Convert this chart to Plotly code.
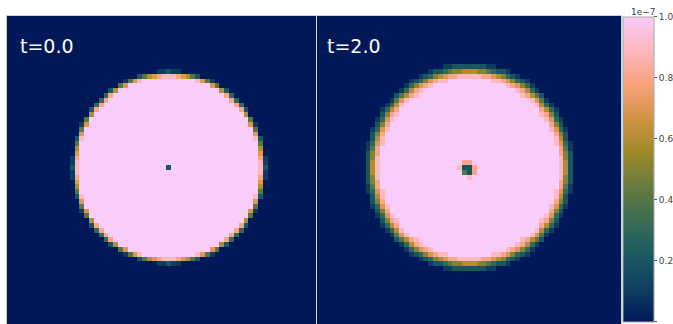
import numpy as np
import plotly.graph_objects as go

# ---------------- data (values in units of 1e-7) ----------------
N_CELLS = 64
CENTER_COL = 33
T0_FIRST_ROW = 11
T2_FIRST_ROW = 10
SCALE = 1e-7

LEVELS = {".": 0.0, "1": 0.1, "2": 0.2, "3": 0.3, "4": 0.4, "5": 0.5,
          "6": 0.6, "7": 0.7, "8": 0.8, "9": 0.9, "#": 1.0}

T0_ROWS = [
    ".........." ".........." "." "11211" "." ".........." "..........",
    ".........." "......." "2467899987642" "......." "..........",
    ".........." "...." "1479" "##########" "#" "9741" "...." "..........",
    ".........." "..." "47" "##########" "#######" "74" "..." "..........",
    ".........." "." "26" "##########" "##########" "#" "62" "." "..........",
    ".........." "38" "##########" "##########" "###" "83" "..........",
    "........." "38" "##########" "##########" "#####" "83" ".........",
    "........" "38" "##########" "##########" "#######" "83" "........",
    "......." "28" "##########" "##########" "#########" "82" ".......",
    "......." "6" "##########" "##########" "##########" "#" "6" ".......",
    "......" "4" "##########" "##########" "##########" "###" "4" "......",
    "....." "17" "##########" "##########" "##########" "###" "71" ".....",
    "....." "4" "##########" "##########" "##########" "#####" "4" ".....",
    "....." "7" "##########" "##########" "##########" "#####" "7" ".....",
    "...." "29" "##########" "##########" "##########" "#####" "92" "....",
    "...." "4" "##########" "##########" "##########" "#######" "4" "....",
    "...." "6" "##########" "##########" "##########" "#######" "6" "....",
    "...." "7" "##########" "##########" "##########" "#######" "7" "....",
    "..." "18" "##########" "##########" "##########" "#######" "81" "...",
    "..." "19" "##########" "##########" "##########" "#######" "91" "...",
    "..." "29" "##########" "########" "2" "##########" "########" "92" "...",
    "..." "19" "##########" "##########" "##########" "#######" "91" "...",
    "..." "18" "##########" "##########" "##########" "#######" "81" "...",
    "...." "7" "##########" "##########" "##########" "#######" "7" "....",
    "...." "6" "##########" "##########" "##########" "#######" "6" "....",
    "...." "4" "##########" "##########" "##########" "#######" "4" "....",
    "...." "29" "##########" "##########" "##########" "#####" "92" "....",
    "....." "7" "##########" "##########" "##########" "#####" "7" ".....",
    "....." "4" "##########" "##########" "##########" "#####" "4" ".....",
    "....." "17" "##########" "##########" "##########" "###" "71" ".....",
    "......" "4" "##########" "##########" "##########" "###" "4" "......",
    "......." "6" "##########" "##########" "##########" "#" "6" ".......",
    "......." "28" "##########" "##########" "#########" "82" ".......",
    "........" "38" "##########" "##########" "#######" "83" "........",
    "........." "38" "##########" "##########" "#####" "83" ".........",
    ".........." "38" "##########" "##########" "###" "83" "..........",
    ".........." "." "26" "##########" "##########" "#" "62" "." "..........",
    ".........." "..." "47" "##########" "#######" "74" "..." "..........",
    ".........." "...." "1479" "##########" "#" "9741" "...." "..........",
    ".........." "......." "2467899987642" "......." "..........",
    ".........." ".........." "." "11211" "." ".........." "..........",
]

T2_ROWS = [
    ".........." "........" "11222222211" "........" "..........",
    ".........." "....." "12234556665543221" "....." "..........",
    ".........." "..." "123567889999988765321" "..." "..........",
    ".........." "." "12357899" "#########" "99875321" "." "..........",
    ".........." "135789" "##########" "#####" "987531" "..........",
    "........." "13689" "##########" "#########" "98631" ".........",
    "........" "24689" "##########" "##########" "#" "98642" "........",
    "......." "1479" "##########" "##########" "#####" "9741" ".......",
    "......" "1369" "##########" "##########" "#######" "9631" "......",
    "....." "1368" "##########" "##########" "#########" "8631" ".....",
    "....." "2589" "##########" "##########" "#########" "9852" ".....",
    "...." "1379" "##########" "##########" "##########" "#" "9731" "....",
    "...." "258" "##########" "##########" "##########" "###" "852" "....",
    "..." "1379" "##########" "##########" "##########" "###" "9731" "...",
    "..." "258" "##########" "##########" "##########" "#####" "852" "...",
    "..." "269" "##########" "##########" "##########" "#####" "962" "...",
    ".." "1379" "##########" "##########" "##########" "#####" "9731" "..",
    ".." "148" "##########" "##########" "##########" "#######" "841" "..",
    ".." "258" "##########" "##########" "##########" "#######" "852" "..",
    ".." "259" "##########" "##########" "##########" "#######" "952" "..",
    ".." "269" "##########" "#######" "88" "##########" "########" "962" "..",
    ".." "269" "##########" "######" "9228" "##########" "#######" "962" "..",
    ".." "269" "##########" "#######" "428" "##########" "#######" "962" "..",
    ".." "259" "##########" "########" "9" "##########" "########" "952" "..",
    ".." "258" "##########" "##########" "##########" "#######" "852" "..",
    ".." "148" "##########" "##########" "##########" "#######" "841" "..",
    ".." "1379" "##########" "##########" "##########" "#####" "9731" "..",
    "..." "269" "##########" "##########" "##########" "#####" "962" "...",
    "..." "258" "##########" "##########" "##########" "#####" "852" "...",
    "..." "1379" "##########" "##########" "##########" "###" "9731" "...",
    "...." "258" "##########" "##########" "##########" "###" "852" "....",
    "...." "1379" "##########" "##########" "##########" "#" "9731" "....",
    "....." "2589" "##########" "##########" "#########" "9852" ".....",
    "....." "1368" "##########" "##########" "#########" "8631" ".....",
    "......" "1369" "##########" "##########" "#######" "9631" "......",
    "......." "1479" "##########" "##########" "#####" "9741" ".......",
    "........" "24689" "##########" "##########" "#" "98642" "........",
    "........." "13689" "##########" "#########" "98631" ".........",
    ".........." "135789" "##########" "#####" "987531" "..........",
    ".........." "." "12357899" "#########" "99875321" "." "..........",
    ".........." "..." "123567889999988765321" "..." "..........",
    ".........." "....." "12234556665543221" "....." "..........",
    ".........." "........" "11222222211" "........" "..........",
]

PANEL_TITLES = ["t=0.0", "t=2.0"]
CBAR_TICKS = [0.0, 0.2, 0.4, 0.6, 0.8, 1.0]
CBAR_LABELS = ["0.0", "0.2", "0.4", "0.6", "0.8", "1.0"]

BATLOW = ["#011959", "#103F60", "#1C5A62", "#3C6D56", "#687B3E",
          "#9D892B", "#D29343", "#F8A17B", "#FDB7BC", "#FACCFA"]


def build_field(rows, first_row):
    z = np.zeros((N_CELLS, N_CELLS))
    for i, s in enumerate(rows):
        r = first_row + i
        start = CENTER_COL - len(s) // 2
        for j, ch in enumerate(s):
            c = start + j
            if 0 <= r < N_CELLS and 0 <= c < N_CELLS:
                z[r, c] = LEVELS.get(ch, 0.0)
    return z * SCALE


z0 = build_field(T0_ROWS, T0_FIRST_ROW)
z2 = build_field(T2_ROWS, T2_FIRST_ROW)
cells = list(range(N_CELLS))

W, H = 673, 324
colorscale = [[i / (len(BATLOW) - 1), c] for i, c in enumerate(BATLOW)]

fig = go.Figure()
fig.add_trace(go.Heatmap(z=z0, x=cells, y=cells, coloraxis="coloraxis",
                         xaxis="x", yaxis="y", hoverinfo="skip"))
fig.add_trace(go.Heatmap(z=z2, x=cells, y=cells, coloraxis="coloraxis",
                         xaxis="x2", yaxis="y2", hoverinfo="skip"))

ax_style = dict(showticklabels=False, ticks="", showgrid=False, zeroline=False,
                showline=True, mirror=True, linecolor="#cfcfd8", linewidth=1)

fig.update_layout(
    width=W, height=H,
    margin=dict(l=0, r=0, t=0, b=0, autoexpand=False),
    paper_bgcolor="white",
    plot_bgcolor=BATLOW[0],
    xaxis=dict(domain=[7 / W, 316 / W], range=[-0.5, 63.5], anchor="y", **ax_style),
    xaxis2=dict(domain=[317 / W, 621 / W], range=[1.45, 64.45], anchor="y2", **ax_style),
    yaxis=dict(domain=[0, 1 - 16 / H], range=[63.5, -0.5], anchor="x", **ax_style),
    yaxis2=dict(domain=[0, 1 - 16 / H], range=[63.5, -0.5], anchor="x2", **ax_style),
    coloraxis=dict(
        colorscale=colorscale, cmin=0, cmax=SCALE,
        colorbar=dict(
            x=623 / W, xanchor="left", y=1 - 16.5 / H, yanchor="top",
            len=305 / H, lenmode="fraction",
            thickness=31, thicknessmode="pixels",
            xpad=0, ypad=0,
            outlinewidth=1, outlinecolor="#a8a8a8",
            tickvals=[t * SCALE for t in CBAR_TICKS], ticktext=CBAR_LABELS,
            ticks="outside", ticklen=3, tickwidth=1, tickcolor="#555555",
            tickfont=dict(size=9, color="#444444", family="DejaVu Sans"),
        ),
    ),
    showlegend=False,
)

fig.add_annotation(x=18 / W, y=1 - 46.5 / H, xref="paper", yref="paper",
                   text=PANEL_TITLES[0], showarrow=False, xanchor="left", yanchor="middle",
                   font=dict(size=19, color="white", family="DejaVu Sans"))
fig.add_annotation(x=325 / W, y=1 - 46.5 / H, xref="paper", yref="paper",
                   text=PANEL_TITLES[1], showarrow=False, xanchor="left", yanchor="middle",
                   font=dict(size=19, color="white", family="DejaVu Sans"))
fig.add_annotation(x=643 / W, y=1 - 11.5 / H, xref="paper", yref="paper",
                   text="1e\u22127", showarrow=False, xanchor="center", yanchor="middle",
                   font=dict(size=9, color="#444444", family="DejaVu Sans"))

fig.write_html("out.html", config={"displayModeBar": False},
               post_script="document.body.style.margin='0px';document.body.style.overflow='hidden';")
